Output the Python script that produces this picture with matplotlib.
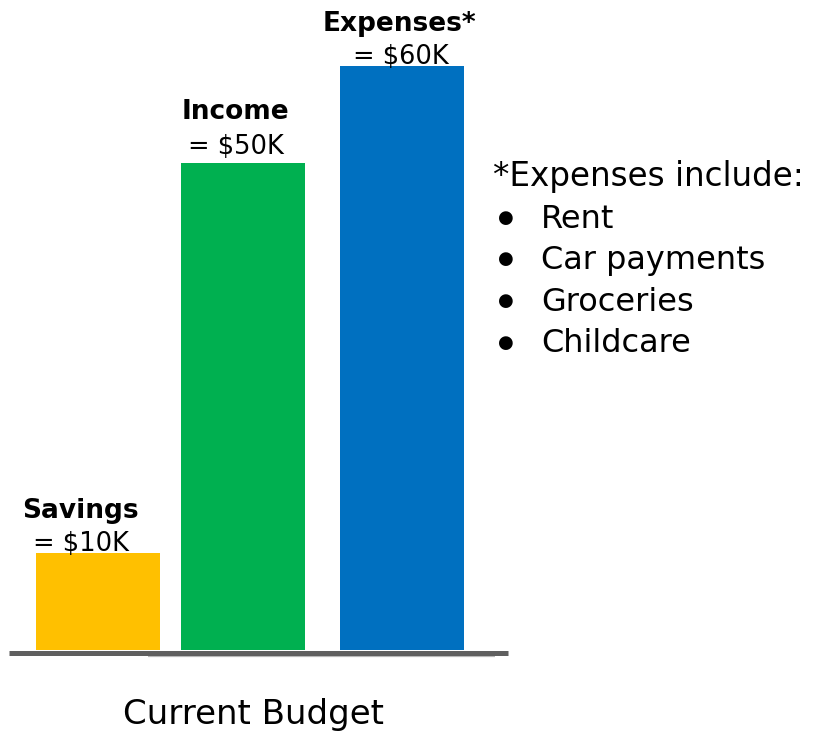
import matplotlib
matplotlib.use("Agg")
import matplotlib.pyplot as plt

# Budget figures, in thousands of dollars
categories = ["Savings", "Income", "Expenses*"]
values = [10, 50, 60]
value_labels = ["= $10K", "= $50K", "= $60K"]
colors = ["#FFC000", "#00B050", "#0070C0"]
expense_items = ["Rent", "Car payments", "Groceries", "Childcare"]
axis_title = "Current Budget"

W, H = 815, 732
plt.rcParams["font.family"] = ["DejaVu Sans"]

fig = plt.figure(figsize=(W / 100, H / 100), dpi=100)
# axes spans the full width in pixel units horizontally; y in $K
base_px, top_px = 650, 66
ax = fig.add_axes([0, (H - base_px) / H, 1, (base_px - top_px) / H])
ax.set_xlim(0, W)
ax.set_ylim(0, max(values))
ax.axis("off")

centers = [98, 243, 401.5]
bar_w = 124
ax.bar(centers, values, width=bar_w, color=colors, zorder=2)

# baseline
px = max(values) / (base_px - top_px)  # $K per pixel
ax.plot([148, 495], [-5.5 * px, -5.5 * px], color="#b8b8b8", lw=1.6,
        solid_capstyle="butt", clip_on=False, zorder=1)
ax.plot([9, 508], [-2.5 * px, -2.5 * px], color="#5f5f5f", lw=3.6,
        solid_capstyle="butt", clip_on=False, zorder=3)

name_off = [(-18, 35), (-8, 44), (-2, 35)]
val_off = [(-17, 2), (-7, 9), (-1, 2)]
for c, v, name, lab, no, vo in zip(centers, values, categories, value_labels,
                                    name_off, val_off):
    ax.annotate(name, (c, v), xytext=no, textcoords="offset pixels",
                ha="center", va="baseline", fontsize=19, fontweight="bold",
                color="black", annotation_clip=False)
    ax.annotate(lab, (c, v), xytext=vo, textcoords="offset pixels",
                ha="center", va="baseline", fontsize=18.5, color="black",
                annotation_clip=False)

# note listing what expenses cover
fig.text(493 / W, 1 - 186 / H, "*Expenses include:", fontsize=23.5,
         ha="left", va="baseline")
for i, item in enumerate(expense_items):
    yb = 228 + i * 41.5
    fig.text(506 / W, 1 - (yb - 10) / H, "\u25cf", fontsize=13,
             ha="center", va="center")
    fig.text(541 / W, 1 - yb / H, item, fontsize=23, ha="left",
             va="baseline")

fig.text(254 / W, 1 - 724 / H, axis_title, fontsize=24.5, ha="center",
         va="baseline")

fig.savefig("out.png", dpi=100, facecolor="white")
